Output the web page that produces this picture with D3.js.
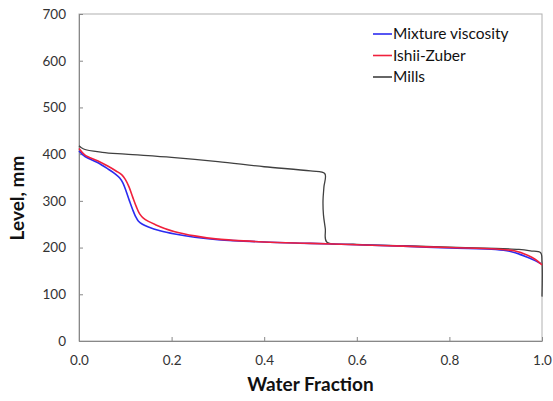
<!DOCTYPE html>
<html>
<head>
<meta charset="utf-8">
<script src="https://cdn.jsdelivr.net/npm/d3@7"></script>
<style>
  body { margin: 0; background: #fff; }
  svg text { font-family: Lato, "Open Sans", sans-serif; }
</style>
</head>
<body>
<div id="chart"></div>
<script>
// series: [water fraction, level mm]
var mixtureViscosity = [
  [0.0, 407], [0.013, 395], [0.04, 382], [0.063, 368], [0.078, 358], [0.088, 349],
  [0.095, 338], [0.102, 320], [0.109, 300], [0.116, 281], [0.122, 267], [0.128, 257],
  [0.137, 250], [0.15, 244], [0.175, 236], [0.207, 229], [0.25, 222], [0.3, 217],
  [0.4, 212], [0.5, 209], [0.6, 206], [0.7, 203], [0.8, 199], [0.9, 196],
  [0.93, 192], [0.967, 180], [0.985, 172], [0.997, 166]
];
var ishiiZuber = [
  [0.0, 412], [0.013, 398], [0.04, 386], [0.063, 374], [0.08, 364], [0.092, 356],
  [0.1, 346], [0.108, 330], [0.116, 308], [0.124, 287], [0.131, 272], [0.139, 263],
  [0.15, 256], [0.165, 249], [0.185, 241], [0.207, 234], [0.25, 225], [0.3, 218],
  [0.4, 212], [0.5, 209], [0.6, 206], [0.7, 203], [0.8, 200], [0.9, 197],
  [0.94, 193], [0.97, 183], [0.985, 175], [1.0, 163]
];
var mills = [
  [0.0, 418], [0.01, 411], [0.05, 404], [0.1, 400], [0.2, 393], [0.3, 384],
  [0.4, 373], [0.5, 364], [0.531, 358], [0.529, 330], [0.527, 300], [0.528, 270],
  [0.532, 240], [0.535, 212], [0.6, 207], [0.7, 204], [0.8, 201], [0.9, 198],
  [0.95, 196], [0.975, 193], [0.997, 189], [1.0, 170], [1.0, 95]
];
var xTicks = [0, 0.2, 0.4, 0.6, 0.8, 1.0];
var yTicks = [0, 100, 200, 300, 400, 500, 600, 700];
var seriesNames = ["Mixture viscosity", "Ishii-Zuber", "Mills"];
var seriesColors = ["#2b2bf0", "#f0203c", "#404040"];

var W = 553, H = 401;
var m = { left: 79, right: 11, top: 14, bottom: 60 };

var svg = d3.select("#chart").append("svg")
  .attr("width", W).attr("height", H);

var x = d3.scaleLinear().domain([0, 1]).range([m.left, W - m.right]);
var y = d3.scaleLinear().domain([0, 700]).range([H - m.bottom, m.top]);

// plot frame
svg.append("rect")
  .attr("x", x(0)).attr("y", y(700))
  .attr("width", x(1) - x(0)).attr("height", y(0) - y(700))
  .attr("fill", "none").attr("stroke", "#b0b0b0").attr("stroke-width", 1);

// axes
var xAxis = svg.append("g")
  .attr("transform", "translate(0," + y(0) + ")")
  .call(d3.axisBottom(x).tickValues(xTicks).tickSizeInner(-4).tickSizeOuter(0)
    .tickPadding(14).tickFormat(d3.format(".1f")));
var yAxis = svg.append("g")
  .attr("transform", "translate(" + x(0) + ",0)")
  .call(d3.axisLeft(y).tickValues(yTicks).tickSizeInner(-4).tickSizeOuter(0)
    .tickPadding(13));

[xAxis, yAxis].forEach(function(a) {
  a.select(".domain").attr("stroke", "#888");
  a.selectAll(".tick line").attr("stroke", "#888");
  a.selectAll(".tick text").attr("fill", "#333").style("font-size", "13.5px");
});

// axis titles
svg.append("text")
  .attr("x", (x(0) + x(1)) / 2).attr("y", 391)
  .attr("text-anchor", "middle")
  .style("font-size", "19px").style("font-weight", "bold").attr("fill", "#111")
  .text("Water Fraction");
svg.append("text")
  .attr("transform", "translate(24,198) rotate(-90)")
  .attr("text-anchor", "middle")
  .style("font-size", "19px").style("font-weight", "bold").attr("fill", "#111")
  .text("Level, mm");

// curves
var lineX = d3.line()
  .x(function(d) { return x(d[0]); })
  .y(function(d) { return y(d[1]); })
  .curve(d3.curveCatmullRom.alpha(0.5));

var allSeries = [mixtureViscosity, ishiiZuber, mills];
var widths = [1.6, 1.6, 1.3];
// draw Mills first so red/blue sit on top
[2, 0, 1].forEach(function(i) {
  svg.append("path")
    .datum(allSeries[i])
    .attr("d", lineX)
    .attr("fill", "none")
    .attr("stroke", seriesColors[i])
    .attr("stroke-width", widths[i])
    .attr("stroke-linejoin", "round");
});

// legend
var legend = svg.append("g");
seriesNames.forEach(function(name, i) {
  var ly = 34 + i * 21.5;
  legend.append("line")
    .attr("x1", 373).attr("x2", 392).attr("y1", ly).attr("y2", ly)
    .attr("stroke", seriesColors[i]).attr("stroke-width", 1.6);
  legend.append("text")
    .attr("x", 393).attr("y", ly + 5)
    .style("font-size", "15.5px").attr("fill", "#111")
    .text(name);
});
</script>
</body>
</html>
